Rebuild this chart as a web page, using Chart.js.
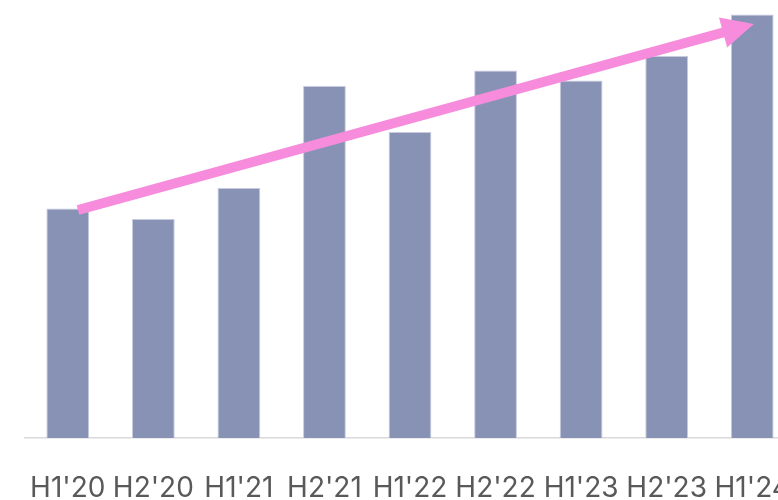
<!DOCTYPE html>
<html>
<head>
<meta charset="utf-8">
<script src="https://cdn.jsdelivr.net/npm/chart.js@4.4.0/dist/chart.umd.min.js"></script>
<style>
  html, body { margin: 0; padding: 0; background: #ffffff; overflow: hidden; }
  #wrap { width: 778px; height: 500px; overflow: hidden; position: relative; }
  #c { position: absolute; left: 0; top: 0; }
</style>
</head>
<body>
<div id="wrap"><canvas id="c" width="795" height="500"></canvas></div>
<script>
const categories = ["H1'20", "H2'20", "H1'21", "H2'21", "H1'22", "H2'22", "H1'23", "H2'23", "H1'24"];
const values = [229.5, 219, 250, 352, 306, 367.5, 357.5, 382, 423.5];
const yMax = 438;
// trend arrow: start and tip, in category-index and value units
const trendX = [0.12, 8.02];
const trendY = [228, 414];

const arrowPlugin = {
  id: 'trendArrow',
  afterDatasetsDraw(chart) {
    const xs = chart.scales.x, ys = chart.scales.y, ctx = chart.ctx;
    const x0 = xs.getPixelForValue(trendX[0]), y0 = ys.getPixelForValue(trendY[0]);
    const x1 = xs.getPixelForValue(trendX[1]), y1 = ys.getPixelForValue(trendY[1]);
    const ang = Math.atan2(y1 - y0, x1 - x0);
    const headLen = 32, headHalf = 15.5, lw = 10;
    const bx = x1 - headLen * Math.cos(ang), by = y1 - headLen * Math.sin(ang);
    ctx.save();
    ctx.strokeStyle = '#F78CDD';
    ctx.fillStyle = '#F78CDD';
    ctx.lineWidth = lw;
    ctx.lineCap = 'butt';
    ctx.beginPath();
    ctx.moveTo(x0, y0);
    ctx.lineTo(bx + 2 * Math.cos(ang), by + 2 * Math.sin(ang));
    ctx.stroke();
    ctx.beginPath();
    ctx.moveTo(x1, y1);
    ctx.lineTo(bx + headHalf * Math.sin(ang), by - headHalf * Math.cos(ang));
    ctx.lineTo(bx - headHalf * Math.sin(ang), by + headHalf * Math.cos(ang));
    ctx.closePath();
    ctx.fill();
    ctx.restore();
  }
};

new Chart(document.getElementById('c'), {
  type: 'bar',
  data: {
    labels: categories,
    datasets: [{
      data: values,
      backgroundColor: '#8792B4',
      borderColor: '#C7CBE0',
      borderWidth: 1,
      barPercentage: 0.5,
      categoryPercentage: 1.0
    }]
  },
  options: {
    responsive: false,
    animation: false,
    layout: { padding: { left: 25, right: 0, top: 0, bottom: 0 } },
    plugins: { legend: { display: false }, tooltip: { enabled: false } },
    scales: {
      x: {
        grid: { display: false, drawTicks: false },
        border: { display: true, color: '#D9D9D9', width: 1.5 },
        ticks: {
          color: '#595959',
          font: { family: 'Inter', size: 28 },
          padding: 34,
          maxRotation: 0,
          autoSkip: false
        },
        afterFit(scale) {
          scale.height = 62;
          scale.paddingLeft = 0;
          scale.paddingRight = 0;
        }
      },
      y: {
        display: false,
        min: 0,
        max: yMax
      }
    }
  },
  plugins: [arrowPlugin]
});
</script>
</body>
</html>
